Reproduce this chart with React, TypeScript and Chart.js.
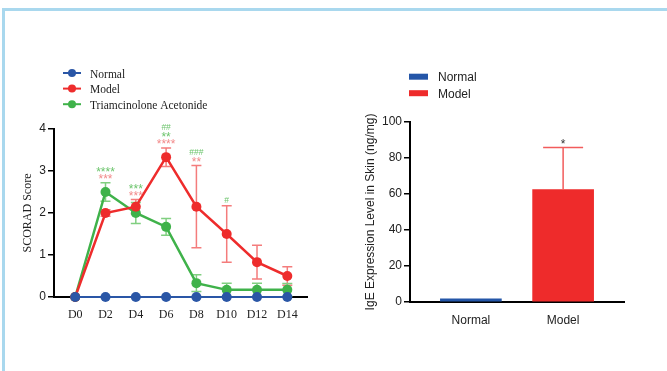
import React, { useEffect, useRef } from "react";
import { Chart, registerables } from "chart.js";

Chart.register(...registerables);

const SERIF = "'Liberation Serif', 'Times New Roman', serif";
const SANS = "'Liberation Sans', Arial, sans-serif";

// ---- Left chart data (SCORAD score) ----
const dayLabels = ["D0", "D2", "D4", "D6", "D8", "D10", "D12", "D14"];
const days = [0, 2, 4, 6, 8, 10, 12, 14];
const seriesNames = ["Normal", "Model", "Triamcinolone Acetonide"];
const normalScore = [0, 0, 0, 0, 0, 0, 0, 0];
const modelScore = [0, 2.0, 2.15, 3.33, 2.15, 1.5, 0.83, 0.5];
const modelErr = [0, 0.08, 0.17, 0.22, 0.98, 0.67, 0.4, 0.22];
const taScore = [0, 2.5, 2.0, 1.67, 0.33, 0.17, 0.17, 0.17];
const taErr = [0, 0.22, 0.25, 0.2, 0.2, 0.16, 0.16, 0.15];
const modelMarks = ["", "***", "***", "****", "**", "", "", ""];
const taStarMarks = ["", "****", "***", "**", "", "", "", ""];
const taHashMarks = ["", "", "", "##", "###", "#", "", ""];
const scoreTicks = [0, 1, 2, 3, 4];

// ---- Right chart data (IgE) ----
const igeGroups = ["Normal", "Model"];
const igeValues = [1.8, 62.4];
const igeErr = [0, 23.4];
const igeMarks = ["", "*"];
const igeTicks = [0, 20, 40, 60, 80, 100];

const BLUE = "#2a56a6";
const RED = "#ee2c2c";
const GREEN = "#3fb24a";

function drawCenteredText(ctx: CanvasRenderingContext2D, text: string, x: number, cy: number) {
  const m = ctx.measureText(text);
  const asc = m.actualBoundingBoxAscent || 0;
  const desc = m.actualBoundingBoxDescent || 0;
  ctx.fillText(text, x, cy + (asc - desc) / 2);
}

function LeftChart() {
  const ref = useRef<HTMLCanvasElement>(null);
  useEffect(() => {
    if (!ref.current) return;
    const plugin = {
      id: "leftExtras",
      beforeDatasetsDraw(chart: any) {
        const { ctx } = chart;
        const x = chart.scales.x;
        const y = chart.scales.y;
        const sets = [
          { v: modelScore, e: modelErr, c: "#f47c7c" },
          { v: taScore, e: taErr, c: "#80cf80" },
        ];
        ctx.save();
        ctx.lineWidth = 1.5;
        sets.forEach((s) =>
          s.v.forEach((val, i) => {
            if (!s.e[i]) return;
            const px = x.getPixelForValue(days[i]);
            const top = y.getPixelForValue(val + s.e[i]);
            const bot = y.getPixelForValue(Math.max(0, val - s.e[i]));
            ctx.strokeStyle = s.c;
            ctx.beginPath();
            ctx.moveTo(px, top);
            ctx.lineTo(px, bot);
            ctx.moveTo(px - 5, top);
            ctx.lineTo(px + 5, top);
            ctx.moveTo(px - 5, bot);
            ctx.lineTo(px + 5, bot);
            ctx.stroke();
          })
        );
        ctx.restore();
      },
      afterDatasetsDraw(chart: any) {
        const { ctx } = chart;
        const x = chart.scales.x;
        const y = chart.scales.y;
        ctx.save();
        ctx.textAlign = "center";
        days.forEach((d, i) => {
          const upper = Math.max(modelScore[i] + modelErr[i], taScore[i] + taErr[i]);
          let cy = y.getPixelForValue(upper) - 6;
          const px = x.getPixelForValue(d);
          const lines = [
            { t: modelMarks[i], c: "#f28a8a", f: `12px ${SANS}` },
            { t: taStarMarks[i], c: "#6cc46c", f: `12px ${SANS}` },
            { t: taHashMarks[i], c: "#6cc46c", f: `8.5px ${SANS}` },
          ];
          lines.forEach((l) => {
            if (!l.t) return;
            ctx.fillStyle = l.c;
            ctx.font = l.f;
            drawCenteredText(ctx, l.t, px, cy);
            cy -= 7.5;
          });
        });
        ctx.restore();
      },
      afterDraw(chart: any) {
        const { ctx } = chart;
        const colors = [BLUE, RED, GREEN];
        ctx.save();
        seriesNames.forEach((name, i) => {
          const cy = 18 + i * 15.6;
          ctx.strokeStyle = colors[i];
          ctx.fillStyle = colors[i];
          ctx.lineWidth = 2;
          ctx.beginPath();
          ctx.moveTo(53, cy);
          ctx.lineTo(71, cy);
          ctx.stroke();
          ctx.beginPath();
          ctx.arc(62, cy, 4, 0, Math.PI * 2);
          ctx.fill();
          ctx.fillStyle = "#222";
          ctx.font = `11.5px ${SERIF}`;
          ctx.textAlign = "left";
          drawCenteredText(ctx, name, 80, cy);
        });
        ctx.restore();
      },
    };

    const mk = (vals: number[], color: string, bw: number) => ({
      data: days.map((d, i) => ({ x: d, y: vals[i] })),
      borderColor: color,
      backgroundColor: color,
      borderWidth: bw,
      pointRadius: 5,
      pointBorderWidth: 0,
      pointBackgroundColor: color,
      tension: 0,
      clip: false as any,
    });

    const chart = new Chart(ref.current, {
      type: "line",
      data: {
        datasets: [
          { label: seriesNames[0], ...mk(normalScore, BLUE, 2) },
          { label: seriesNames[1], ...mk(modelScore, RED, 2.5) },
          { label: seriesNames[2], ...mk(taScore, GREEN, 2.5) },
        ],
      },
      options: {
        responsive: false,
        animation: false,
        devicePixelRatio: 1,
        layout: { padding: { top: 74, right: 13, left: 0, bottom: 0 } },
        plugins: { legend: { display: false }, tooltip: { enabled: false } },
        scales: {
          x: {
            type: "linear",
            min: -1.4,
            max: 15.3,
            offset: false,
            afterBuildTicks: (s: any) => {
              s.ticks = days.map((v) => ({ value: v }));
            },
            afterFit: (s: any) => {
              s.height = 38;
            },
            grid: { display: false },
            border: { color: "#000", width: 2 },
            ticks: {
              callback: (v: any) => dayLabels[days.indexOf(Number(v))] ?? "",
              color: "#222",
              font: { family: SERIF, size: 12 },
              padding: 3,
              maxRotation: 0,
              autoSkip: false,
            },
          },
          y: {
            min: 0,
            max: 4,
            afterBuildTicks: (s: any) => {
              s.ticks = scoreTicks.map((v) => ({ value: v }));
            },
            afterFit: (s: any) => {
              s.width = 44;
            },
            ticks: { color: "#222", font: { family: SANS, size: 12 }, padding: 2 },
            grid: { drawOnChartArea: false, tickLength: 6, color: "#000", lineWidth: 1.5 },
            border: { color: "#000", width: 2 },
            title: {
              display: true,
              text: "SCORAD Score",
              color: "#222",
              font: { family: SERIF, size: 12 },
              padding: { top: 11, bottom: 0 },
            },
          },
        },
      } as any,
      plugins: [plugin],
    });
    return () => chart.destroy();
  }, []);
  return (
    <canvas
      ref={ref}
      width={310}
      height={280}
      style={{ position: "absolute", left: 10, top: 55, width: 310, height: 280 }}
    />
  );
}

function RightChart() {
  const ref = useRef<HTMLCanvasElement>(null);
  useEffect(() => {
    if (!ref.current) return;
    const colors = ["#2456a8", "#ee2b2b"];
    const plugin = {
      id: "rightExtras",
      afterDatasetsDraw(chart: any) {
        const { ctx } = chart;
        const x = chart.scales.x;
        const y = chart.scales.y;
        ctx.save();
        igeValues.forEach((v, i) => {
          const px = x.getPixelForValue(i);
          let topY = y.getPixelForValue(v);
          if (igeErr[i]) {
            topY = y.getPixelForValue(v + igeErr[i]);
            ctx.strokeStyle = "#f25c5c";
            ctx.lineWidth = 1.5;
            ctx.beginPath();
            ctx.moveTo(px, y.getPixelForValue(v));
            ctx.lineTo(px, topY);
            ctx.moveTo(px - 20, topY);
            ctx.lineTo(px + 20, topY);
            ctx.stroke();
          }
          if (igeMarks[i]) {
            ctx.fillStyle = "#333";
            ctx.font = `12px ${SANS}`;
            ctx.textAlign = "center";
            drawCenteredText(ctx, igeMarks[i], px, topY - 6);
          }
        });
        ctx.restore();
      },
      afterDraw(chart: any) {
        const { ctx } = chart;
        ctx.save();
        igeGroups.forEach((g, i) => {
          const cy = 21.7 + i * 16.5;
          ctx.fillStyle = colors[i];
          ctx.fillRect(69, cy - 3, 19, 6);
          ctx.fillStyle = "#222";
          ctx.font = `12px ${SANS}`;
          ctx.textAlign = "left";
          drawCenteredText(ctx, g, 98, cy);
        });
        ctx.restore();
      },
    };
    const chart = new Chart(ref.current, {
      type: "bar",
      data: {
        datasets: [
          {
            label: "IgE",
            data: igeValues.map((v, i) => ({ x: i, y: v })),
            backgroundColor: colors,
            borderWidth: 0,
            barThickness: 61,
            grouped: false,
          },
        ],
      },
      options: {
        responsive: false,
        animation: false,
        devicePixelRatio: 1,
        layout: { padding: { top: 67, right: 36, left: 0, bottom: 0 } },
        plugins: { legend: { display: false }, tooltip: { enabled: false } },
        scales: {
          x: {
            type: "linear",
            min: -0.66,
            max: 1.66,
            offset: false,
            afterBuildTicks: (s: any) => {
              s.ticks = igeGroups.map((_, i) => ({ value: i }));
            },
            afterFit: (s: any) => {
              s.height = 33;
            },
            grid: { display: false, offset: false },
            border: { color: "#000", width: 2 },
            ticks: {
              callback: (v: any) => igeGroups[Number(v)] ?? "",
              color: "#222",
              font: { family: SANS, size: 12 },
              padding: 3,
              maxRotation: 0,
              autoSkip: false,
            },
          },
          y: {
            min: 0,
            max: 100,
            afterBuildTicks: (s: any) => {
              s.ticks = igeTicks.map((v) => ({ value: v }));
            },
            afterFit: (s: any) => {
              s.width = 70;
            },
            ticks: { color: "#222", font: { family: SANS, size: 12 }, padding: 2 },
            grid: { drawOnChartArea: false, tickLength: 6, color: "#000", lineWidth: 1.5 },
            border: { color: "#000", width: 2 },
            title: {
              display: true,
              text: "IgE Expression Level in Skin (ng/mg)",
              color: "#222",
              font: { family: SANS, size: 12 },
              padding: { top: 23, bottom: 0 },
            },
          },
        },
      } as any,
      plugins: [plugin],
    });
    return () => chart.destroy();
  }, []);
  return (
    <canvas
      ref={ref}
      width={320}
      height={280}
      style={{ position: "absolute", left: 340, top: 55, width: 320, height: 280 }}
    />
  );
}

export default function App() {
  return (
    <div
      style={{
        position: "absolute",
        left: 0,
        top: 0,
        width: 667,
        height: 371,
        background: "#fff",
        overflow: "hidden",
      }}
    >
      <div
        style={{
          position: "absolute",
          left: 2,
          top: 8,
          right: 0,
          bottom: 0,
          borderTop: "3px solid #a9d8ee",
          borderLeft: "3px solid #a9d8ee",
        }}
      />
      <LeftChart />
      <RightChart />
    </div>
  );
}
